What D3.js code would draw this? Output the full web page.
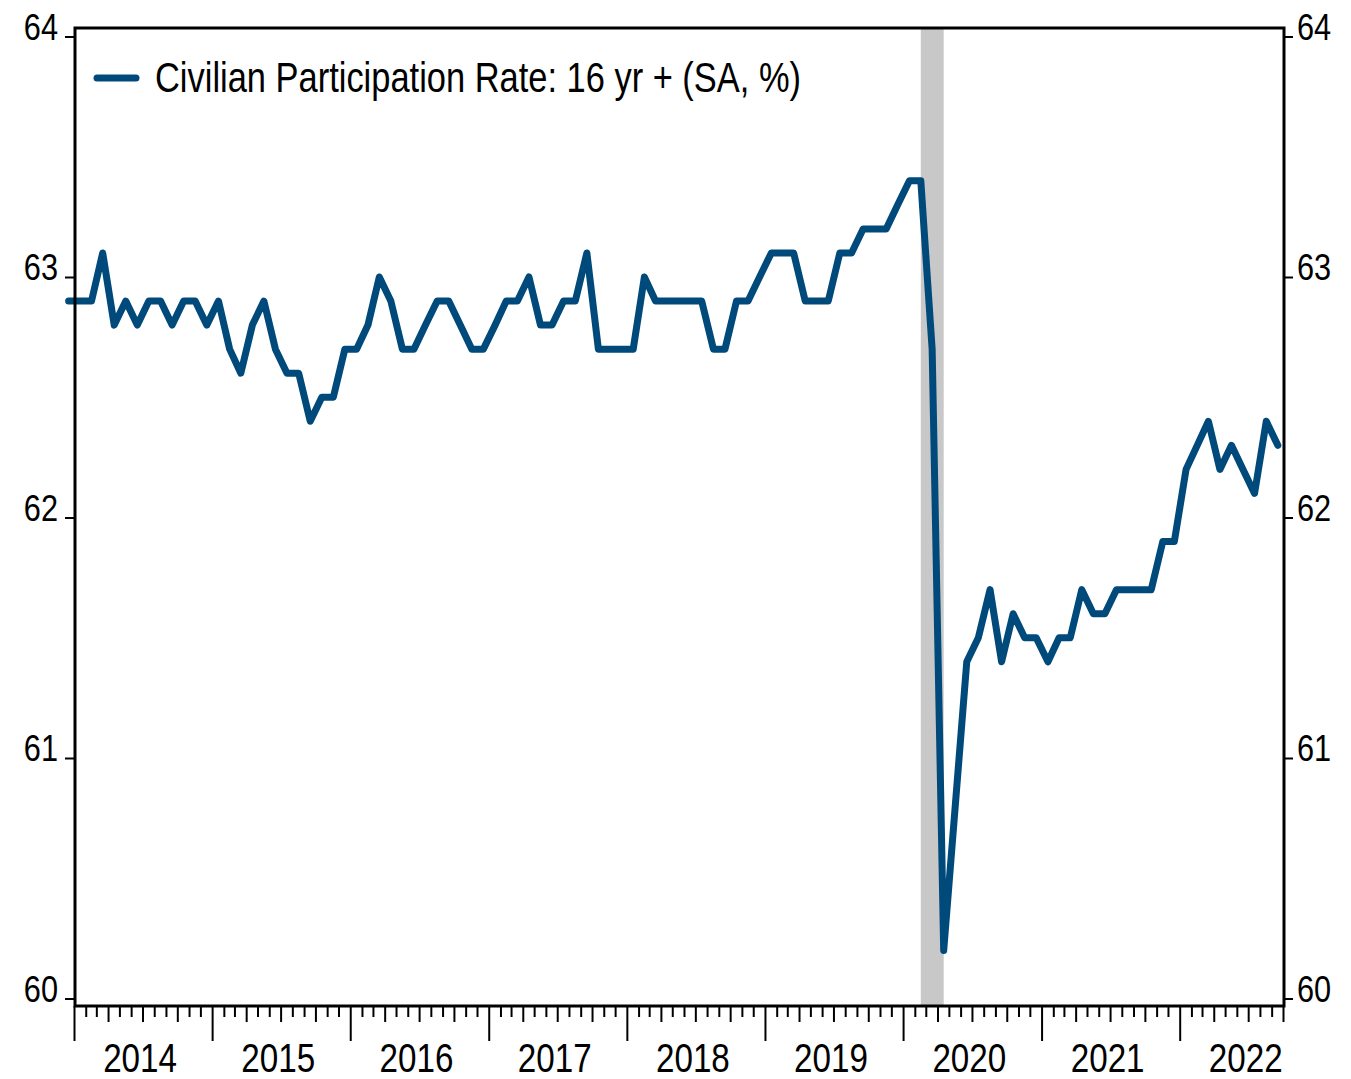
<!DOCTYPE html>
<html>
<head>
<meta charset="utf-8">
<script src="https://cdn.jsdelivr.net/npm/d3@7"></script>
<style>
  html, body { margin: 0; padding: 0; background: #ffffff; }
  svg { display: block; }
  text { font-family: 'Liberation Sans Narrow', 'Arial Narrow', 'Liberation Sans', Arial, sans-serif; fill: #000; }
</style>
</head>
<body>
<svg id="chart" width="1351" height="1079"></svg>
<script>
// ---- Data ----
const startMonth = "2013-12";
const seriesName = "Civilian Participation Rate: 16 yr + (SA, %)";
const values = [
  62.9,
  62.9, 62.9, 63.1, 62.8, 62.9, 62.8, 62.9, 62.9, 62.8, 62.9, 62.9, 62.8,
  62.9, 62.7, 62.6, 62.8, 62.9, 62.7, 62.6, 62.6, 62.4, 62.5, 62.5, 62.7,
  62.7, 62.8, 63.0, 62.9, 62.7, 62.7, 62.8, 62.9, 62.9, 62.8, 62.7, 62.7,
  62.8, 62.9, 62.9, 63.0, 62.8, 62.8, 62.9, 62.9, 63.1, 62.7, 62.7, 62.7,
  62.7, 63.0, 62.9, 62.9, 62.9, 62.9, 62.9, 62.7, 62.7, 62.9, 62.9, 63.0,
  63.1, 63.1, 63.1, 62.9, 62.9, 62.9, 63.1, 63.1, 63.2, 63.2, 63.2, 63.3,
  63.4, 63.4, 62.7, 60.2, 60.8, 61.4, 61.5, 61.7, 61.4, 61.6, 61.5, 61.5,
  61.4, 61.5, 61.5, 61.7, 61.6, 61.6, 61.7, 61.7, 61.7, 61.7, 61.9, 61.9,
  62.2, 62.3, 62.4, 62.2, 62.3, 62.2, 62.1, 62.4, 62.3
];
const recession = ["2020-02", "2020-04"];
const xDomain = ["2014-01", "2022-10"];
const yTicks = [60, 61, 62, 63, 64];
const yearLabels = [2014, 2015, 2016, 2017, 2018, 2019, 2020, 2021, 2022];

// ---- Helpers ----
const parseM = d3.timeParse("%Y-%m");
const midMonth = d => new Date((d.getTime() + d3.timeMonth.offset(d, 1).getTime()) / 2);
const start = parseM(startMonth);
const data = values.map((v, i) => ({ date: d3.timeMonth.offset(start, i), value: v }));
const NARROW = 0.83;
function condense(sel, factor) {
  sel.each(function () {
    const w = this.getComputedTextLength();
    d3.select(this).attr("textLength", w * (factor || NARROW)).attr("lengthAdjust", "spacingAndGlyphs");
  });
}

// ---- Layout ----
const L = 75, R = 1284, T = 28, B = 1006;
const svg = d3.select("#chart");

const x = d3.scaleTime().domain(xDomain.map(parseM)).range([74.5, 1283.5]);
const y = d3.scaleLinear().domain([60, 64]).range([998.5, 36.5]);

// Recession shading
const r0 = midMonth(parseM(recession[0])), r1 = midMonth(parseM(recession[1]));
svg.append("rect")
  .attr("x", x(r0)).attr("y", T)
  .attr("width", x(r1) - x(r0)).attr("height", B - T)
  .attr("fill", "#c8c8c8");

// Line
const line = d3.line()
  .x(d => x(midMonth(d.date)))
  .y(d => y(d.value));
svg.append("path")
  .datum(data)
  .attr("d", line)
  .attr("fill", "none")
  .attr("stroke", "#004a7b")
  .attr("stroke-width", 7)
  .attr("stroke-linejoin", "round")
  .attr("stroke-linecap", "round");

// Frame
svg.append("rect")
  .attr("x", L).attr("y", T)
  .attr("width", R - L).attr("height", B - T)
  .attr("fill", "none").attr("stroke", "#000").attr("stroke-width", 3);

// Left axis
const yAxisL = d3.axisLeft(y).tickValues(yTicks).tickSize(10).tickFormat(d3.format("d"));
const gL = svg.append("g").attr("transform", `translate(${L},0)`).call(yAxisL);
gL.select(".domain").remove();
gL.selectAll(".tick line").attr("stroke", "#000").attr("stroke-width", 2);
gL.selectAll(".tick text")
  .attr("x", -17).attr("dy", "0.08em")
  .style("font-size", "37px").attr("fill", "#000")
  .call(condense);

// Right axis
const yAxisR = d3.axisRight(y).tickValues(yTicks).tickSize(9).tickFormat(d3.format("d"));
const gR = svg.append("g").attr("transform", `translate(${R},0)`).call(yAxisR);
gR.select(".domain").remove();
gR.selectAll(".tick line").attr("stroke", "#000").attr("stroke-width", 2);
gR.selectAll(".tick text")
  .attr("x", 13).attr("dy", "0.08em")
  .style("font-size", "37px").attr("fill", "#000")
  .call(condense);

// Bottom axis: month ticks
const months = d3.timeMonth.range(parseM(xDomain[0]), d3.timeMonth.offset(parseM(xDomain[1]), 1));
const gB = svg.append("g");
gB.selectAll("line.mt").data(months).join("line")
  .attr("x1", d => x(d)).attr("x2", d => x(d))
  .attr("y1", B)
  .attr("y2", d => d.getMonth() === 0 ? 1041 : (d.getMonth() % 3 === 0 ? 1022 : 1017))
  .attr("stroke", "#000").attr("stroke-width", 2);

// Year labels
gB.selectAll("text.yr").data(yearLabels).join("text")
  .attr("x", d => (x(new Date(d, 0, 1)) + x(new Date(d + 1, 0, 1))) / 2 - 3.5)
  .attr("y", 1072)
  .attr("text-anchor", "middle")
  .style("font-size", "40px")
  .text(d => d)
  .call(condense);

// Legend
svg.append("line")
  .attr("x1", 97).attr("x2", 136).attr("y1", 78).attr("y2", 78)
  .attr("stroke", "#004a7b").attr("stroke-width", 7).attr("stroke-linecap", "round");
svg.append("text")
  .attr("x", 155).attr("y", 92)
  .style("font-size", "42px")
  .text(seriesName)
  .call(condense, 0.82);
</script>
</body>
</html>
